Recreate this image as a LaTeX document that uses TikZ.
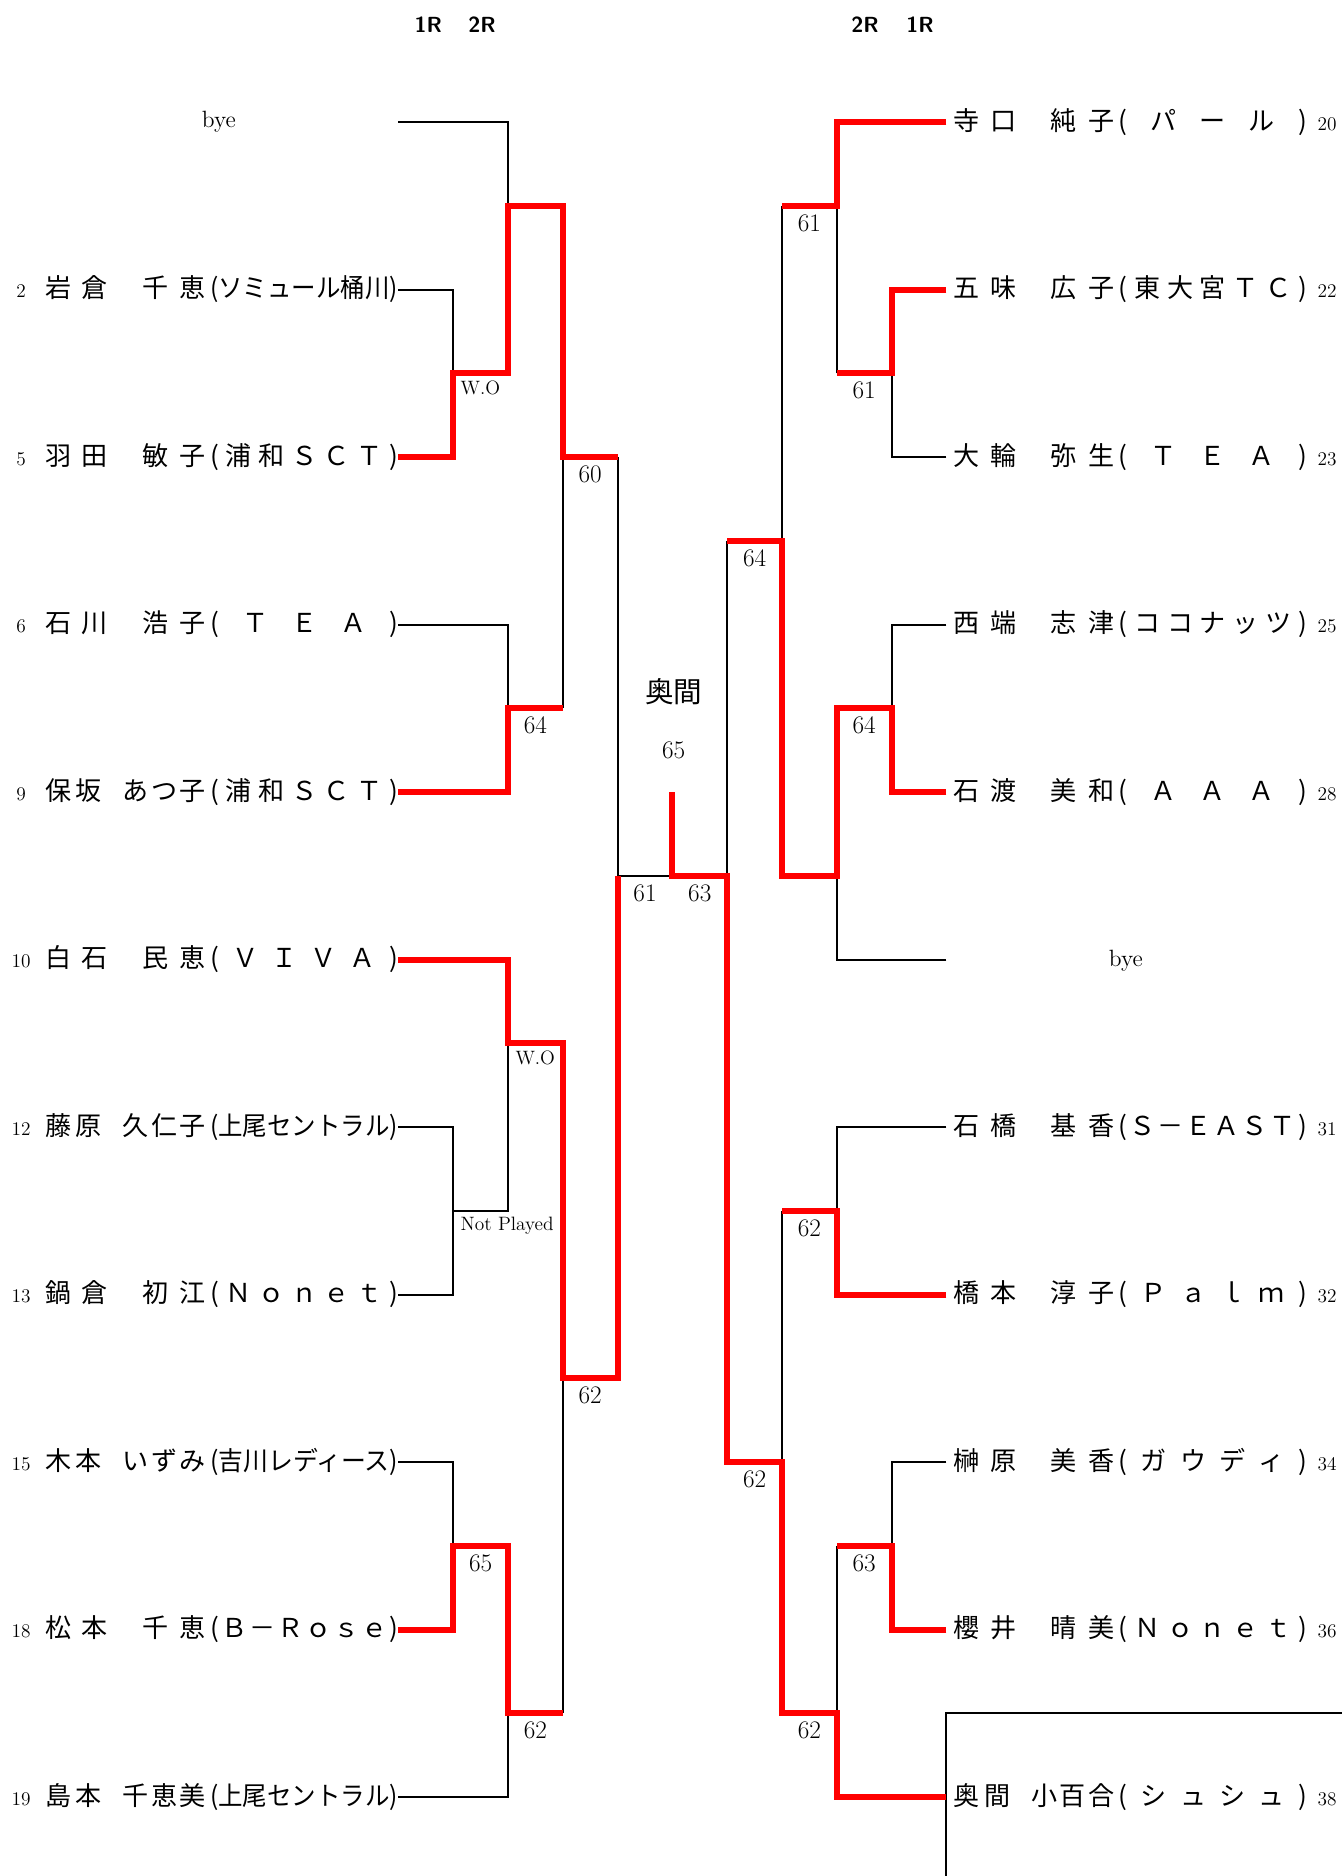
\documentclass[tikz,border=0pt]{standalone}
\usepackage{fontspec}
\usepackage{graphicx}
\usetikzlibrary{calc}
\newfontfamily\jp{Noto Sans CJK JP}
\newlength\unitpx
\setlength\unitpx{0.25mm}
\newsavebox\clubbox
% spread the letters of a field over its width
\def\spreadit#1{\spreadfirst#1\relax}
\def\spreadfirst#1{#1\spreadrest}
\def\spreadrest#1{\ifx#1\relax\else\hfill#1\expandafter\spreadrest\fi}
\newcommand\pnum{\normalfont\fontsize{11.5pt}{12pt}\selectfont}
\newcommand\clubname[1]{\sbox\clubbox{#1}%
  \ifdim\wd\clubbox>157\unitpx\resizebox{157\unitpx}{\height}{#1}%
  \else\makebox[157\unitpx][s]{\spreadit{#1}}\fi}
\newcommand\pnameA[3]{\makebox[52\unitpx][s]{\spreadit{#1}}\hspace{29\unitpx}%
  \makebox[53\unitpx][s]{\spreadit{#2}}\hspace{4\unitpx}\clubname{#3}}
\newcommand\pnameB[3]{\makebox[47\unitpx][s]{\spreadit{#1}}\hspace{18\unitpx}%
  \makebox[69\unitpx][s]{\spreadit{#2}}\hspace{4\unitpx}\clubname{#3}}
\newcommand\leftentry[2]{\makebox[36\unitpx]{\pnum #1}\hspace{2\unitpx}#2}
\newcommand\rightentry[2]{\hspace{6\unitpx}#2\makebox[34\unitpx]{\pnum #1}}
\tikzset{
  lose/.style={line width=0.42mm, color=black},
  win/.style={line width=1.25mm, color=red},
  lplayer/.style={anchor=east, inner sep=0pt, font=\jp\fontsize{15.5pt}{16pt}\selectfont},
  rplayer/.style={anchor=west, inner sep=0pt, font=\jp\fontsize{15.5pt}{16pt}\selectfont},
  score/.style={anchor=north, inner sep=0pt, font=\fontsize{15pt}{15pt}\selectfont},
  note/.style={anchor=north west, inner sep=0pt, font=\fontsize{11.5pt}{12pt}\selectfont},
  byetext/.style={inner sep=0pt, font=\fontsize{14pt}{14pt}\selectfont},
  roundhead/.style={inner sep=0pt, font=\sffamily\bfseries\fontsize{13pt}{13pt}\selectfont}
}
\begin{document}
\begin{tikzpicture}[x=0.25mm, y=-0.25mm]
  \fill[white] (0,0) rectangle (1121,1568);
  \useasboundingbox (0,0) rectangle (1121,1568);
  % grid of bracket columns and rows
  \foreach \i in {0,...,10} {
    \foreach \j in {0,...,20} {
      \coordinate (g\i-\j) at ({333+45.8*\i},{102+70*\j});
    }
  }
  % round headers
  \node[roundhead] (h1l) at (358,21) {1R};
  \node[roundhead] (h2l) at (403,21) {2R};
  \node[roundhead] (h2r) at (723,21) {2R};
  \node[roundhead] (h1r) at (769,21) {1R};
  % left players
  \node[byetext] (byel) at (183,102) {bye};
  \node[lplayer] (p2)  at (g0-2)  {\leftentry{2}{\pnameA{岩倉}{千恵}{(ソミュール桶川)}}};
  \node[lplayer] (p5)  at (g0-4)  {\leftentry{5}{\pnameA{羽田}{敏子}{(浦和ＳＣＴ)}}};
  \node[lplayer] (p6)  at (g0-6)  {\leftentry{6}{\pnameA{石川}{浩子}{(ＴＥＡ)}}};
  \node[lplayer] (p9)  at (g0-8)  {\leftentry{9}{\pnameB{保坂}{あつ子}{(浦和ＳＣＴ)}}};
  \node[lplayer] (p10) at (g0-10) {\leftentry{10}{\pnameA{白石}{民恵}{(ＶＩＶＡ)}}};
  \node[lplayer] (p12) at (g0-12) {\leftentry{12}{\pnameB{藤原}{久仁子}{(上尾セントラル)}}};
  \node[lplayer] (p13) at (g0-14) {\leftentry{13}{\pnameA{鍋倉}{初江}{(Ｎｏｎｅｔ)}}};
  \node[lplayer] (p15) at (g0-16) {\leftentry{15}{\pnameB{木本}{いずみ}{(吉川レディース)}}};
  \node[lplayer] (p18) at (g0-18) {\leftentry{18}{\pnameA{松本}{千恵}{(Ｂ－Ｒｏｓｅ)}}};
  \node[lplayer] (p19) at (g0-20) {\leftentry{19}{\pnameB{島本}{千恵美}{(上尾セントラル)}}};
  % right players
  \node[rplayer] (p20) at (g10-0)  {\rightentry{20}{\pnameA{寺口}{純子}{(パール)}}};
  \node[rplayer] (p22) at (g10-2)  {\rightentry{22}{\pnameA{五味}{広子}{(東大宮ＴＣ)}}};
  \node[rplayer] (p23) at (g10-4)  {\rightentry{23}{\pnameA{大輪}{弥生}{(ＴＥＡ)}}};
  \node[rplayer] (p25) at (g10-6)  {\rightentry{25}{\pnameA{西端}{志津}{(ココナッツ)}}};
  \node[rplayer] (p28) at (g10-8)  {\rightentry{28}{\pnameA{石渡}{美和}{(ＡＡＡ)}}};
  \node[byetext] (byer) at (941,803) {bye};
  \node[rplayer] (p31) at (g10-12) {\rightentry{31}{\pnameA{石橋}{基香}{(Ｓ－ＥＡＳＴ)}}};
  \node[rplayer] (p32) at (g10-14) {\rightentry{32}{\pnameA{橋本}{淳子}{(Ｐａｌｍ)}}};
  \node[rplayer] (p34) at (g10-16) {\rightentry{34}{\pnameA{榊原}{美香}{(ガウディ)}}};
  \node[rplayer] (p36) at (g10-18) {\rightentry{36}{\pnameA{櫻井}{晴美}{(Ｎｏｎｅｔ)}}};
  \node[rplayer] (p38) at (g10-20) {\rightentry{38}{\pnameB{奥間}{小百合}{(シュシュ)}}};
  % champion
  \node[inner sep=0pt, font=\jp\fontsize{17pt}{17pt}\selectfont] (champ) at (563,578) {奥間};
  \node[inner sep=0pt, font=\fontsize{15pt}{15pt}\selectfont] (fscore) at (563,627) {65};
  % losing lines, left
  \draw[lose] (g0-0) -| (g2-1);
  \draw[lose] (p2.east) -| (g1-3);
  \draw[lose] (p6.east) -| (g2-7);
  \draw[lose] (g3-7) -- (g3-4);
  \draw[lose] (g4-4) -- (g4-9) -- (g5-9);
  \draw[lose] (p12.east) -| (g1-13) |- (p13.east);
  \draw[lose] (g1-13) -| (g2-11);
  \draw[lose] (p15.east) -| (g1-17);
  \draw[lose] (p19.east) -| (g2-19);
  \draw[lose] (g3-19) -- (g3-15);
  % losing lines, right
  \draw[lose] (g6-5) -- (g6-9);
  \draw[lose] (g7-1) -- (g7-5);
  \draw[lose] (g8-3) -- (g8-1);
  \draw[lose] (p23.west) -| (g9-3);
  \draw[lose] (p25.west) -| (g9-7);
  \draw[lose] (g10-10) -| (g8-9);
  \draw[lose] (p31.west) -| (g8-13);
  \draw[lose] (g7-13) -- (g7-16);
  \draw[lose] (p34.west) -| (g9-17);
  \draw[lose] (g8-17) -- (g8-19);
  \draw[lose] ($(g10-19)+(340,0)$) -| ($(g10-20)+(0,80)$);
  % winning lines
  \draw[win] (p5.east) -| (g1-3) -| (g2-1) -| (g3-4) -- (g4-4);
  \draw[win] (p9.east) -| (g2-7) -- (g3-7);
  \draw[win] (p10.east) -| (g2-11) -| (g3-15) -| (g4-9);
  \draw[win] (p18.east) -| (g1-17) -| (g2-19) -- (g3-19);
  \draw[win] (g5-8) |- (g6-9) |- (g7-16) |- (g8-19) |- (p38.west);
  \draw[win] (p20.west) -| (g8-1) -- (g7-1);
  \draw[win] (p22.west) -| (g9-3) -- (g8-3);
  \draw[win] (p28.west) -| (g9-7) -| (g8-9) -| (g7-5) -- (g6-5);
  \draw[win] (p32.west) -| (g8-13) -- (g7-13);
  \draw[win] (p36.west) -| (g9-17) -- (g8-17);
  % scores
  \node[note] (wo1) at ($(g1-3)+(6,6)$) {W.O};
  \node[note] (wo2) at ($(g2-11)+(6,6)$) {W.O};
  \node[note] (np)  at ($(g1-13)+(6,5)$) {Not Played};
  \node[score] (s60)  at ($(g3-4)!.5!(g4-4)+(0,7)$) {60};
  \node[score] (s64l) at ($(g2-7)!.5!(g3-7)+(0,7)$) {64};
  \node[score] (s61c) at ($(g4-9)!.5!(g5-9)+(0,7)$) {61};
  \node[score] (s63c) at ($(g5-9)!.5!(g6-9)+(0,7)$) {63};
  \node[score] (s62l) at ($(g3-15)!.5!(g4-15)+(0,7)$) {62};
  \node[score] (s65l) at ($(g1-17)!.5!(g2-17)+(0,7)$) {65};
  \node[score] (s62m) at ($(g2-19)!.5!(g3-19)+(0,7)$) {62};
  \node[score] (s61a) at ($(g7-1)!.5!(g8-1)+(0,7)$) {61};
  \node[score] (s61b) at ($(g8-3)!.5!(g9-3)+(0,7)$) {61};
  \node[score] (s64a) at ($(g6-5)!.5!(g7-5)+(0,7)$) {64};
  \node[score] (s64b) at ($(g8-7)!.5!(g9-7)+(0,7)$) {64};
  \node[score] (s62a) at ($(g7-13)!.5!(g8-13)+(0,7)$) {62};
  \node[score] (s62b) at ($(g6-16)!.5!(g7-16)+(0,7)$) {62};
  \node[score] (s63r) at ($(g8-17)!.5!(g9-17)+(0,7)$) {63};
  \node[score] (s62c) at ($(g7-19)!.5!(g8-19)+(0,7)$) {62};
\end{tikzpicture}
\end{document}
